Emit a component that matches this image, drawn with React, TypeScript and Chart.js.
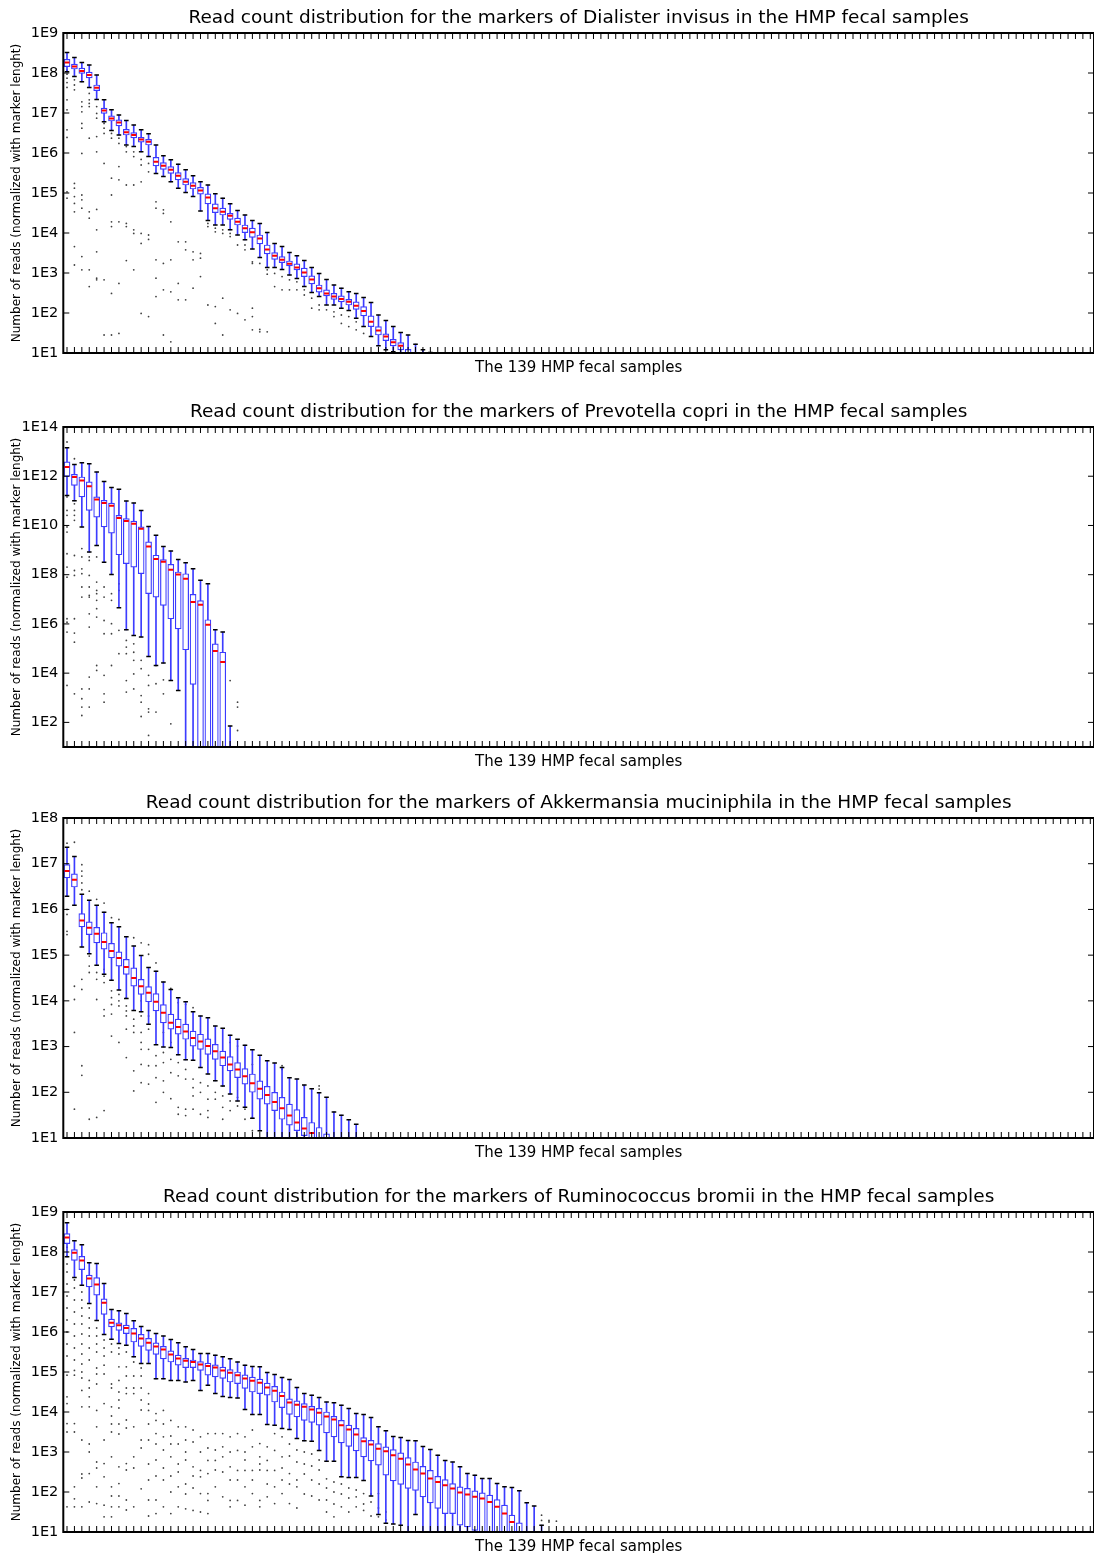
import React, { useEffect, useRef } from "react";
import { Chart, registerables } from "chart.js";

Chart.register(...registerables);

const FONT = "'DejaVu Sans', 'Liberation Sans', sans-serif";

// 139 HMP fecal samples (categories on the x axis)
const sampleLabels: string[] = Array.from({ length: 139 }, (_, i) => `S${i + 1}`);

// All values below are log10 of the normalized read counts.

// ---------- Dialister invisus ----------
const dialisterQ1 = [8.16, 8.10, 7.99, 7.88, 7.56, 6.99, 6.80, 6.68, 6.45, 6.38, 6.27, 6.20, 5.68, 5.59, 5.49, 5.33, 5.20, 5.10, 4.97, 4.73, 4.51, 4.45, 4.34, 4.20, 4.01, 3.89, 3.73, 3.48, 3.34, 3.26, 3.18, 3.08, 2.91, 2.73, 2.52, 2.43, 2.34, 2.28, 2.20, 2.09, 1.93, 1.66, 1.45, 1.31, 1.18, 1.08, 0.85, 0.80, 0.75, 0.70];
const dialisterMedian = [8.26, 8.16, 8.05, 7.95, 7.63, 7.06, 6.86, 6.76, 6.52, 6.45, 6.34, 6.28, 5.78, 5.68, 5.58, 5.43, 5.28, 5.18, 5.06, 4.89, 4.62, 4.53, 4.43, 4.28, 4.12, 4.02, 3.86, 3.59, 3.43, 3.33, 3.23, 3.14, 3.01, 2.84, 2.62, 2.49, 2.41, 2.35, 2.28, 2.18, 2.05, 1.78, 1.56, 1.41, 1.27, 1.18, 0.97, 0.90, 0.85, 0.80];
const dialisterQ3 = [8.34, 8.22, 8.12, 8.02, 7.70, 7.12, 6.93, 6.83, 6.59, 6.51, 6.39, 6.34, 5.89, 5.76, 5.66, 5.51, 5.36, 5.26, 5.14, 4.98, 4.73, 4.62, 4.49, 4.37, 4.20, 4.12, 3.95, 3.70, 3.51, 3.41, 3.30, 3.23, 3.12, 2.93, 2.70, 2.58, 2.49, 2.43, 2.34, 2.28, 2.16, 1.93, 1.66, 1.48, 1.34, 1.26, 1.09, 0.95, 0.90, 0.88];
const dialisterWhiskerLow = [8.03, 7.91, 7.78, 7.64, 7.34, 6.78, 6.56, 6.45, 6.20, 6.16, 6.03, 5.91, 5.49, 5.41, 5.28, 5.12, 5.01, 4.91, 4.55, 4.31, 4.20, 4.20, 4.08, 3.95, 3.83, 3.60, 3.39, 3.14, 3.14, 3.09, 2.95, 2.86, 2.66, 2.51, 2.41, 2.20, 2.20, 2.12, 2.06, 1.87, 1.66, 1.41, 1.18, 1.08, 1.03, 0.90, 0.70, 0.70, 0.65, 0.60];
const dialisterWhiskerHigh = [8.51, 8.39, 8.26, 8.20, 7.95, 7.33, 7.08, 6.95, 6.81, 6.70, 6.58, 6.48, 6.20, 5.93, 5.83, 5.72, 5.58, 5.43, 5.28, 5.20, 4.98, 4.87, 4.73, 4.56, 4.45, 4.31, 4.24, 4.01, 3.74, 3.66, 3.51, 3.43, 3.31, 3.14, 2.99, 2.84, 2.70, 2.62, 2.53, 2.49, 2.39, 2.26, 1.95, 1.81, 1.66, 1.51, 1.45, 1.22, 1.08, 1.01];
const dialisterOutliers: [number, number[]][] = [
  [1, [8.07, 7.97, 7.87, 7.76, 7.64, 7.33, 7.08, 6.58, 6.39, 5.03, 4.87]],
  [2, [7.83, 7.70, 7.58, 5.24, 5.12, 4.91, 4.74, 4.53, 3.66, 3.20]],
  [3, [7.28, 7.16, 7.03, 6.74, 6.62, 5.99, 4.95, 4.83, 4.62, 3.41, 3.08]],
  [4, [7.49, 7.33, 7.24, 7.16, 6.37, 4.53, 4.37, 3.08, 2.66]],
  [5, [7.16, 6.99, 6.87, 6.41, 6.03, 4.59, 4.08, 3.53, 2.87, 2.83]],
  [6, [6.74, 6.62, 6.49, 5.74, 2.83, 1.45]],
  [7, [6.49, 6.37, 5.37, 4.95, 4.28, 4.16, 2.49, 1.45]],
  [8, [6.37, 6.24, 5.66, 5.33, 4.28, 2.74, 1.49]],
  [9, [6.16, 6.03, 5.20, 4.24, 4.16, 3.31]],
  [10, [6.03, 5.91, 5.20, 4.08, 3.99, 3.08]],
  [11, [5.84, 5.70, 5.28, 3.99, 3.74, 1.99]],
  [12, [5.74, 5.53, 3.95, 3.84, 1.91]],
  [13, [4.78, 4.62, 3.33, 2.87, 2.41]],
  [14, [4.58, 4.49, 3.24, 2.58, 1.45]],
  [15, [4.28, 3.33, 2.53, 1.28]],
  [16, [3.78, 2.74, 2.33]],
  [17, [3.78, 3.58, 2.33]],
  [18, [3.53, 3.33, 2.62]],
  [19, [3.49, 3.37, 2.91]],
  [20, [4.24, 4.16, 2.20]],
  [21, [4.12, 4.03, 2.16, 1.74]],
  [22, [4.08, 3.99, 2.37, 1.45]],
  [23, [3.99, 3.91, 2.08]],
  [24, [3.70, 1.99]],
  [25, [3.70, 3.58, 1.83]],
  [26, [3.28, 3.24, 2.12, 1.91, 1.58]],
  [27, [3.24, 1.59, 1.53]],
  [28, [3.08, 2.97, 1.53]],
  [29, [2.99, 2.66]],
  [30, [2.91, 2.58]],
  [31, [2.83, 2.58]],
  [32, [2.78, 2.58]],
  [33, [2.58, 2.45]],
  [34, [2.37, 2.12]],
  [35, [2.20, 2.08]],
  [36, [2.08]],
  [37, [2.03, 1.91]],
  [38, [1.95, 1.74]],
  [39, [1.91, 1.66]],
  [40, [1.78, 1.58]],
  [41, [1.49]],
];
const dialisterTicks = [1, 2, 3, 4, 5, 6, 7, 8, 9];

// ---------- Prevotella copri ----------
const prevotellaQ1 = [11.99, 11.63, 11.16, 10.61, 10.34, 9.94, 9.69, 8.81, 8.45, 8.31, 8.04, 7.23, 7.09, 6.75, 6.21, 5.80, 4.95, 3.54, 0.5, 0.5, 0.5, 0.5, 0.3];
const prevotellaMedian = [12.37, 11.97, 11.83, 11.59, 11.05, 10.91, 10.80, 10.30, 10.18, 10.07, 9.87, 9.15, 8.64, 8.53, 8.20, 8.01, 7.84, 6.89, 6.78, 5.97, 4.90, 4.45, 0.6];
const prevotellaQ3 = [12.58, 12.08, 11.97, 11.77, 11.16, 11.02, 10.91, 10.41, 10.28, 10.18, 9.94, 9.33, 8.79, 8.61, 8.42, 8.11, 8.04, 7.20, 6.95, 6.17, 5.19, 4.85, 0.8];
const prevotellaWhiskerLow = [11.22, 11.0, 9.94, 8.92, 9.19, 8.51, 8.01, 6.66, 5.76, 5.53, 5.47, 4.68, 4.31, 4.41, 3.70, 3.30, 0.5, 0.5, 0.3, 0.3, 0.3, 0.3, 0.2];
const prevotellaWhiskerHigh = [13.16, 12.48, 12.55, 12.51, 12.17, 11.79, 11.54, 11.47, 10.99, 10.91, 10.61, 9.96, 9.60, 9.15, 8.96, 8.62, 8.49, 8.24, 7.77, 7.63, 5.76, 5.67, 1.85];
const prevotellaOutliers: [number, number[]][] = [
  [1, [13.39, 11.16, 10.61, 10.41, 9.94, 9.73, 8.85, 8.31, 7.90, 6.21, 6.07, 5.67, 3.50]],
  [2, [12.71, 10.88, 10.61, 10.41, 10.21, 8.78, 8.17, 7.97, 6.21, 5.63, 5.26, 3.16]],
  [3, [9.06, 8.72, 8.24, 8.04, 7.50, 7.09, 3.36, 2.96, 2.62, 2.28]],
  [4, [8.72, 8.58, 7.97, 7.50, 7.09, 7.16, 6.41, 5.87, 3.84, 3.36, 2.62]],
  [5, [8.72, 7.70, 7.23, 7.36, 6.96, 6.62, 6.28, 4.31, 4.11]],
  [6, [7.50, 7.09, 6.14, 5.60, 3.91, 3.16, 2.82]],
  [7, [7.23, 6.96, 6.01, 5.60, 4.31]],
  [8, [7.63, 7.36, 5.74, 4.79]],
  [9, [5.33, 5.06, 4.79, 3.70, 3.23]],
  [10, [5.19, 4.85, 4.52, 3.97, 3.36]],
  [11, [4.52, 4.18, 3.09, 2.82, 2.24]],
  [12, [3.91, 3.50, 2.55, 2.42, 1.47]],
  [13, [4.31, 3.57, 2.42]],
  [14, [3.73, 3.16]],
  [15, [1.94]],
  [23, [3.70]],
  [24, [2.82, 2.62, 1.67]],
];
const prevotellaTicks = [2, 4, 6, 8, 10, 12, 14];

// ---------- Akkermansia muciniphila ----------
const akkermansiaQ1 = [6.69, 6.49, 5.62, 5.45, 5.27, 5.13, 4.94, 4.76, 4.58, 4.32, 4.14, 3.98, 3.78, 3.52, 3.38, 3.27, 3.16, 3.01, 2.94, 2.83, 2.72, 2.58, 2.47, 2.32, 2.18, 2.00, 1.85, 1.74, 1.60, 1.41, 1.28, 1.16, 1.05, 0.90, 0.80, 0.70, 0.50, 0.50, 0.50, 0.50];
const akkermansiaMedian = [6.84, 6.65, 5.76, 5.60, 5.47, 5.29, 5.09, 4.94, 4.74, 4.50, 4.32, 4.18, 3.98, 3.74, 3.52, 3.43, 3.33, 3.19, 3.11, 3.01, 2.90, 2.76, 2.61, 2.50, 2.35, 2.20, 2.08, 1.94, 1.79, 1.65, 1.49, 1.34, 1.21, 1.11, 0.98, 0.90, 0.70, 0.70, 0.70, 0.70];
const akkermansiaQ3 = [6.98, 6.78, 5.91, 5.73, 5.61, 5.49, 5.26, 5.07, 4.91, 4.72, 4.47, 4.31, 4.16, 3.92, 3.71, 3.60, 3.49, 3.34, 3.27, 3.17, 3.05, 2.90, 2.78, 2.65, 2.52, 2.40, 2.25, 2.13, 2.00, 1.89, 1.74, 1.62, 1.45, 1.34, 1.23, 1.09, 0.90, 0.90, 0.90, 0.90];
const akkermansiaWhiskerLow = [6.29, 6.09, 5.18, 5.03, 4.78, 4.58, 4.45, 4.24, 4.05, 3.79, 3.76, 3.49, 3.04, 2.99, 2.98, 2.82, 2.71, 2.70, 2.54, 2.40, 2.25, 2.14, 1.96, 1.81, 1.67, 1.43, 1.16, 0.90, 0.80, 0.70, 0.60, 0.60, 0.50, 0.50, 0.40, 0.40, 0.30, 0.30, 0.30, 0.30];
const akkermansiaWhiskerHigh = [7.36, 7.16, 6.33, 6.20, 6.09, 5.94, 5.71, 5.62, 5.40, 5.20, 4.99, 4.73, 4.65, 4.41, 4.25, 4.07, 3.98, 3.76, 3.67, 3.63, 3.45, 3.40, 3.25, 3.16, 3.03, 2.93, 2.81, 2.69, 2.64, 2.54, 2.32, 2.29, 2.16, 2.08, 1.99, 1.89, 1.57, 1.50, 1.40, 1.30];
const akkermansiaOutliers: [number, number[]][] = [
  [1, [7.45, 6.00, 5.89, 5.52, 5.45]],
  [2, [7.47, 4.32, 4.03, 3.31, 1.63]],
  [3, [6.98, 6.84, 6.73, 6.58, 6.43, 4.47, 4.25, 2.58, 2.37]],
  [4, [6.40, 4.98, 4.76, 4.62, 1.41]],
  [5, [6.22, 4.62, 4.47, 4.03, 1.45]],
  [6, [6.14, 4.69, 4.54, 4.40, 3.81, 3.67, 1.60]],
  [7, [5.82, 4.22, 4.07, 3.92, 3.71, 3.23]],
  [8, [5.78, 4.14, 4.00, 3.89, 3.09]],
  [9, [4.07, 3.89, 3.78, 3.67, 3.38, 2.76]],
  [10, [5.38, 3.60, 3.45, 3.31, 2.47, 2.03]],
  [11, [5.27, 4.00, 3.67, 3.31, 3.09, 2.94, 2.61, 2.21]],
  [12, [5.23, 5.02, 3.67, 3.38, 2.94, 2.58, 2.18]],
  [13, [4.83, 2.80, 2.58, 2.32, 1.78]],
  [14, [4.40, 3.31, 2.87, 2.65, 2.25, 2.00]],
  [15, [4.27, 3.09, 2.72, 2.43, 1.86]],
  [16, [3.96, 2.65, 2.36, 1.67, 1.52]],
  [17, [3.92, 2.50, 2.29, 1.63, 1.49]],
  [18, [3.85, 2.29, 2.10, 1.92, 1.63]],
  [19, [2.21, 2.00, 1.52]],
  [20, [3.16, 2.14, 1.85, 1.60, 1.45]],
  [21, [2.00, 1.85]],
  [22, [2.14, 1.92, 1.67, 1.41]],
  [23, [3.09, 1.81, 1.60]],
  [24, [3.01, 1.89, 1.70]],
  [25, [1.63, 1.41]],
  [26, [2.61, 1.45, 1.16]],
  [27, [1.16]],
  [30, [2.58, 2.50]],
  [33, [2.14]],
  [35, [2.14, 2.07]],
];
const akkermansiaTicks = [1, 2, 3, 4, 5, 6, 7, 8];

// ---------- Ruminococcus bromii ----------
const ruminococcusQ1 = [8.21, 7.79, 7.56, 7.13, 6.92, 6.44, 6.13, 6.04, 5.96, 5.75, 5.64, 5.54, 5.44, 5.33, 5.25, 5.17, 5.11, 5.11, 5.04, 4.92, 4.88, 4.84, 4.75, 4.71, 4.59, 4.50, 4.46, 4.42, 4.25, 4.11, 3.94, 3.88, 3.79, 3.74, 3.67, 3.48, 3.38, 3.23, 3.14, 3.03, 2.88, 2.78, 2.67, 2.42, 2.28, 2.19, 2.09, 2.04, 1.88, 1.73, 1.59, 1.46, 1.46, 1.17, 1.13, 1.04, 0.90, 0.90, 0.80, 0.80, 0.70, 0.60, 0.40, 0.40, 0.40];
const ruminococcusMedian = [8.36, 7.98, 7.79, 7.34, 7.19, 6.73, 6.23, 6.17, 6.10, 5.96, 5.84, 5.73, 5.64, 5.56, 5.44, 5.34, 5.28, 5.25, 5.19, 5.15, 5.11, 5.04, 4.98, 4.92, 4.84, 4.78, 4.73, 4.61, 4.53, 4.40, 4.24, 4.18, 4.13, 4.06, 3.98, 3.89, 3.81, 3.67, 3.56, 3.44, 3.27, 3.19, 3.08, 3.02, 2.92, 2.83, 2.69, 2.56, 2.46, 2.34, 2.25, 2.17, 2.09, 1.99, 1.94, 1.88, 1.84, 1.75, 1.63, 1.46, 1.25, 1.00, 0.70, 0.70, 0.70];
const ruminococcusQ3 = [8.46, 8.06, 7.89, 7.42, 7.36, 6.83, 6.32, 6.23, 6.17, 6.09, 5.94, 5.84, 5.73, 5.64, 5.53, 5.42, 5.34, 5.30, 5.26, 5.22, 5.18, 5.12, 5.06, 5.00, 4.93, 4.87, 4.82, 4.72, 4.64, 4.50, 4.33, 4.28, 4.21, 4.14, 4.09, 4.00, 3.89, 3.79, 3.67, 3.59, 3.36, 3.29, 3.21, 3.13, 3.06, 2.98, 2.86, 2.75, 2.64, 2.54, 2.39, 2.31, 2.21, 2.13, 2.09, 2.03, 1.98, 1.92, 1.81, 1.67, 1.42, 1.23, 0.90, 0.90, 0.90];
const ruminococcusWhiskerLow = [7.88, 7.36, 7.17, 6.71, 6.29, 5.94, 5.82, 5.71, 5.67, 5.38, 5.21, 5.21, 4.83, 4.83, 4.79, 4.79, 4.75, 4.79, 4.54, 4.67, 4.46, 4.39, 4.36, 4.35, 4.06, 3.94, 3.94, 3.69, 3.67, 3.59, 3.56, 3.34, 3.28, 3.27, 3.04, 2.77, 2.77, 2.38, 2.36, 2.36, 2.29, 1.90, 1.44, 1.22, 1.20, 1.17, 0.60, 1.44, 0.60, 0.60, 0.60, 0.60, 0.60, 0.60, 0.60, 0.60, 0.50, 0.50, 0.50, 0.50, 0.40, 0.40, 0.30, 0.30, 0.30];
const ruminococcusWhiskerHigh = [8.73, 8.28, 8.18, 7.73, 7.71, 7.21, 6.56, 6.53, 6.46, 6.28, 6.14, 6.04, 5.96, 5.90, 5.81, 5.73, 5.63, 5.56, 5.46, 5.46, 5.42, 5.38, 5.33, 5.25, 5.17, 5.14, 5.13, 4.99, 4.94, 4.86, 4.81, 4.61, 4.46, 4.42, 4.36, 4.25, 4.23, 4.17, 4.09, 3.96, 3.94, 3.86, 3.63, 3.53, 3.39, 3.36, 3.29, 3.28, 3.14, 3.06, 2.92, 2.79, 2.75, 2.63, 2.46, 2.42, 2.34, 2.34, 2.21, 2.13, 2.11, 2.03, 1.73, 1.65, 1.17];
const ruminococcusOutliers: [number, number[]][] = [
  [1, [8.12, 7.90, 7.70, 7.50, 7.20, 6.90, 6.60, 6.30, 6.00, 5.70, 5.40, 4.92, 4.38, 4.21, 3.71, 3.50, 1.63]],
  [2, [7.30, 7.10, 6.80, 6.50, 6.20, 5.90, 5.60, 5.30, 5.04, 4.92, 3.71, 3.50, 2.13, 1.83, 1.63]],
  [3, [7.00, 6.80, 6.60, 6.40, 6.20, 5.95, 5.70, 5.45, 5.20, 5.00, 4.85, 4.54, 4.13, 3.30, 2.45, 2.35, 1.63]],
  [4, [6.60, 6.35, 6.10, 5.90, 5.60, 5.30, 4.79, 4.60, 4.38, 4.13, 3.20, 3.00, 2.46, 1.75]],
  [5, [6.10, 5.90, 5.70, 5.50, 5.10, 4.95, 4.70, 4.04, 3.63, 2.75, 2.60, 2.13, 1.71]],
  [6, [5.80, 5.60, 5.40, 5.17, 4.95, 4.21, 3.30, 2.71, 2.38, 1.67, 1.38]],
  [7, [5.70, 5.50, 4.70, 4.60, 4.13, 3.90, 3.70, 3.50, 2.88, 2.13, 1.90, 1.63, 1.38]],
  [8, [5.60, 5.45, 5.13, 4.79, 4.50, 4.30, 4.10, 3.70, 3.45, 2.63, 2.21, 1.90, 1.63]],
  [9, [5.50, 5.13, 4.90, 4.60, 4.46, 3.80, 3.60, 2.71, 2.55, 1.80, 1.55]],
  [10, [5.25, 4.90, 4.60, 4.46, 3.63, 2.88, 2.60, 1.63]],
  [11, [5.10, 4.90, 4.60, 4.30, 4.05, 3.30, 3.10, 2.08]],
  [12, [4.46, 4.20, 4.04, 3.70, 3.30, 2.70, 2.30, 1.80, 1.40]],
  [13, [3.96, 3.79, 3.46, 3.20, 2.80, 2.40, 1.80, 1.46]],
  [14, [4.04, 3.70, 3.38, 3.05, 2.60, 2.30, 1.63]],
  [15, [3.79, 3.40, 3.20, 2.88, 2.40, 2.00, 1.46]],
  [16, [3.63, 3.20, 2.70, 2.50, 2.13, 1.63]],
  [17, [3.63, 3.30, 3.00, 2.80, 2.20, 1.95, 1.58]],
  [18, [3.55, 3.25, 2.63, 2.40, 2.10, 1.54]],
  [19, [3.38, 3.00, 2.54, 2.38, 1.96, 1.50]],
  [20, [3.46, 3.10, 2.79, 2.46, 1.96, 1.79, 1.46]],
  [21, [3.46, 3.05, 2.79, 2.55, 2.13]],
  [22, [3.46, 3.13, 2.88, 2.50, 1.88]],
  [23, [3.38, 3.00, 2.63, 2.30, 1.79, 1.63]],
  [24, [3.46, 3.04, 2.54, 2.30, 1.79]],
  [25, [3.38, 3.00, 2.80, 2.54, 2.13, 1.67]],
  [26, [3.55, 3.13, 2.54, 2.30, 1.96]],
  [27, [3.21, 2.88, 2.70, 2.55, 1.79, 1.63]],
  [28, [3.13, 2.79, 2.54, 2.20, 1.88]],
  [29, [3.46, 3.04, 2.54, 2.13, 1.71]],
  [30, [3.38, 2.88, 2.60, 2.30, 1.96]],
  [31, [3.20, 2.90, 2.46, 2.20, 1.71]],
  [32, [3.05, 2.75, 2.30, 2.13, 1.60]],
  [33, [3.00, 2.70, 2.45, 1.95]],
  [34, [2.95, 2.65, 2.30, 1.90]],
  [35, [2.80, 2.55, 2.20, 1.80]],
  [36, [2.33, 2.10, 1.80, 1.50]],
  [37, [2.25, 2.00, 1.70, 1.38]],
  [38, [2.20, 1.95, 1.63]],
  [39, [2.10, 1.85, 1.50]],
  [40, [2.05, 1.88, 1.63]],
  [41, [1.96, 1.70, 1.54]],
  [42, [1.95, 1.75, 1.40]],
  [43, [1.96, 1.60, 1.38]],
  [44, [1.50, 1.30]],
  [65, [1.42, 1.29]],
  [66, [1.29, 1.25]],
  [67, [1.27]],
];
const ruminococcusTicks = [1, 2, 3, 4, 5, 6, 7, 8, 9];

type PanelSpec = {
  title: string;
  q1: number[];
  med: number[];
  q3: number[];
  lo: number[];
  hi: number[];
  outliers: [number, number[]][];
  yMin: number;
  yMax: number;
  yTicks: number[];
};

const panels: PanelSpec[] = [
  {
    title: "Read count distribution for the markers of Dialister invisus in the HMP fecal samples",
    q1: dialisterQ1, med: dialisterMedian, q3: dialisterQ3, lo: dialisterWhiskerLow, hi: dialisterWhiskerHigh,
    outliers: dialisterOutliers, yMin: 1, yMax: 9, yTicks: dialisterTicks,
  },
  {
    title: "Read count distribution for the markers of Prevotella copri in the HMP fecal samples",
    q1: prevotellaQ1, med: prevotellaMedian, q3: prevotellaQ3, lo: prevotellaWhiskerLow, hi: prevotellaWhiskerHigh,
    outliers: prevotellaOutliers, yMin: 1, yMax: 14, yTicks: prevotellaTicks,
  },
  {
    title: "Read count distribution for the markers of Akkermansia muciniphila in the HMP fecal samples",
    q1: akkermansiaQ1, med: akkermansiaMedian, q3: akkermansiaQ3, lo: akkermansiaWhiskerLow, hi: akkermansiaWhiskerHigh,
    outliers: akkermansiaOutliers, yMin: 1, yMax: 8, yTicks: akkermansiaTicks,
  },
  {
    title: "Read count distribution for the markers of Ruminococcus bromii in the HMP fecal samples",
    q1: ruminococcusQ1, med: ruminococcusMedian, q3: ruminococcusQ3, lo: ruminococcusWhiskerLow, hi: ruminococcusWhiskerHigh,
    outliers: ruminococcusOutliers, yMin: 1, yMax: 9, yTicks: ruminococcusTicks,
  },
];

const panelTops = [0, 394, 785, 1179];

const framePlugin = {
  id: "mplFrame",
  afterDatasetsDraw(chart: any) {
    const { ctx, chartArea: a, scales } = chart;
    ctx.save();
    ctx.strokeStyle = "#000";
    ctx.lineWidth = 1;
    const xs = scales.x;
    ctx.beginPath();
    xs.ticks.forEach((_: any, i: number) => {
      const px = xs.getPixelForTick(i);
      ctx.moveTo(px, a.bottom);
      ctx.lineTo(px, a.bottom - 6);
      ctx.moveTo(px, a.top);
      ctx.lineTo(px, a.top + 6);
    });
    const ys = scales.y;
    ys.ticks.forEach((_: any, i: number) => {
      const py = ys.getPixelForTick(i);
      ctx.moveTo(a.left, py);
      ctx.lineTo(a.left + 6, py);
      ctx.moveTo(a.right, py);
      ctx.lineTo(a.right - 6, py);
    });
    ctx.stroke();
    ctx.lineWidth = 2;
    ctx.strokeRect(a.left, a.top, a.right - a.left, a.bottom - a.top);
    ctx.restore();
  },
};

function BoxPanel({ spec, top }: { spec: PanelSpec; top: number }) {
  const ref = useRef<HTMLCanvasElement | null>(null);

  useEffect(() => {
    const canvas = ref.current;
    if (!canvas) return;
    const pow = (e: number) => Math.pow(10, e);

    const outlierPoints: { x: string; y: number }[] = [];
    spec.outliers.forEach(([s, exps]) =>
      exps.forEach((e) => outlierPoints.push({ x: sampleLabels[s - 1], y: pow(e) }))
    );
    const capPoints: { x: string; y: number }[] = [];
    spec.lo.forEach((e, k) => capPoints.push({ x: sampleLabels[k], y: pow(e) }));
    spec.hi.forEach((e, k) => capPoints.push({ x: sampleLabels[k], y: pow(e) }));

    const chart = new Chart(canvas, {
      type: "bar",
      data: {
        labels: sampleLabels,
        datasets: [
          {
            type: "line",
            label: "outliers",
            data: outlierPoints,
            showLine: false,
            borderWidth: 0,
            pointStyle: "circle",
            pointRadius: 0.9,
            pointBackgroundColor: "rgba(0,0,0,0.75)",
            pointBorderWidth: 0,
            order: 5,
            clip: 0,
          } as any,
          {
            type: "bar",
            label: "whiskers",
            data: spec.lo.map((e, k) => [pow(e), pow(spec.hi[k])]),
            backgroundColor: "#3c3cff",
            borderWidth: 0,
            barThickness: 1,
            grouped: false,
            order: 4,
            clip: 0,
          } as any,
          {
            type: "bar",
            label: "boxes",
            data: spec.q1.map((e, k) => [pow(e), pow(spec.q3[k])]),
            backgroundColor: "#ffffff",
            borderColor: "#3a3aff",
            borderWidth: 1.2,
            borderSkipped: false,
            barThickness: 6,
            grouped: false,
            order: 3,
            clip: 0,
          } as any,
          {
            type: "line",
            label: "caps",
            data: capPoints,
            showLine: false,
            borderWidth: 0,
            pointStyle: "line",
            pointRadius: 2.3,
            pointBorderColor: "#000",
            pointBackgroundColor: "#000",
            pointBorderWidth: 1.5,
            order: 2,
            clip: 0,
          } as any,
          {
            type: "line",
            label: "medians",
            data: spec.med.map((e) => pow(e)),
            showLine: false,
            borderWidth: 0,
            pointStyle: "line",
            pointRadius: 2.5,
            pointBorderColor: "#ff0000",
            pointBackgroundColor: "#ff0000",
            pointBorderWidth: 2,
            order: 1,
            clip: 0,
          } as any,
        ],
      },
      options: {
        responsive: false,
        animation: false,
        devicePixelRatio: 1,
        events: [],
        layout: { padding: { left: 0, right: 2, top: 0, bottom: 0 } },
        plugins: {
          legend: { display: false },
          tooltip: { enabled: false },
          title: {
            display: true,
            text: spec.title,
            fullSize: false,
            color: "#000",
            font: { family: FONT, size: 18.5, weight: "normal", lineHeight: 1.2 },
            padding: { top: 6.9, bottom: 3.9 },
          },
        },
        scales: {
          x: {
            type: "category",
            offset: true,
            ticks: { display: false },
            grid: { display: false, drawTicks: false, offset: true },
            border: { display: false },
            title: {
              display: true,
              text: "The 139 HMP fecal samples",
              color: "#000",
              font: { family: FONT, size: 15 },
              padding: { top: 0, bottom: 15 },
            },
            afterFit: (s: any) => {
              s.height = 39;
            },
          },
          y: {
            type: "logarithmic",
            min: pow(spec.yMin),
            max: pow(spec.yMax),
            afterBuildTicks: (s: any) => {
              s.ticks = spec.yTicks.map((e) => ({ value: pow(e) }));
            },
            ticks: {
              callback: (v: any) => "1E" + Math.round(Math.log10(Number(v))),
              color: "#000",
              font: { family: FONT, size: 14.5 },
              padding: 5,
              autoSkip: false,
            },
            grid: { display: false, drawTicks: false },
            border: { display: false },
            title: {
              display: true,
              text: "Number of reads (normalized with marker lenght)",
              color: "#000",
              font: { family: FONT, size: 12 },
              padding: { top: 9.5, bottom: 0 },
            },
            afterFit: (s: any) => {
              s.width = 63.3;
            },
          },
        },
      } as any,
      plugins: [framePlugin],
    });
    return () => chart.destroy();
  }, [spec]);

  return (
    <canvas
      ref={ref}
      width={1100}
      height={392}
      style={{ position: "absolute", left: 0, top, width: 1100, height: 392, display: "block" }}
    />
  );
}

export default function App() {
  return (
    <div
      style={{
        position: "absolute",
        left: 0,
        top: 0,
        width: 1094,
        height: 1553,
        overflow: "hidden",
        background: "#ffffff",
      }}
    >
      {panels.map((p, i) => (
        <BoxPanel key={i} spec={p} top={panelTops[i]} />
      ))}
    </div>
  );
}
